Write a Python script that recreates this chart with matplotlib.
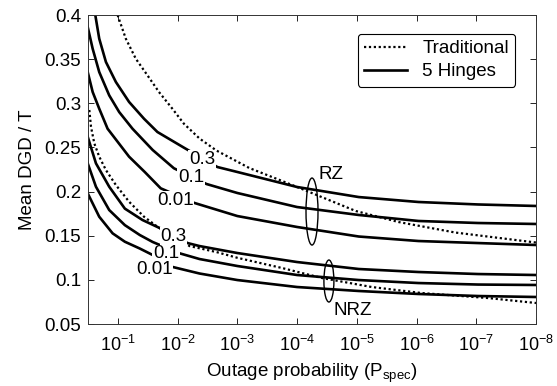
import numpy as np
import matplotlib
matplotlib.use("Agg")
import matplotlib.pyplot as plt
from matplotlib.patches import Ellipse
from matplotlib.lines import Line2D
from matplotlib.transforms import ScaledTranslation
from matplotlib.ticker import FixedLocator, FormatStrFormatter, LogFormatterSciNotation, NullLocator

plt.rcParams['font.family'] = ['Liberation Sans', 'DejaVu Sans']
plt.rcParams['mathtext.fontset'] = 'custom'
plt.rcParams['mathtext.rm'] = 'Liberation Sans'
plt.rcParams['mathtext.it'] = 'Liberation Sans:italic'

# --- data: log10(P_spec) and mean DGD / T ---
# traditional (dotted)
rz_trad_lp = [-0.995, -1.133, -1.3, -1.495, -1.688, -1.912, -2.105, -2.367, -2.65, -3.2, -3.75, -4.083, -4.983, -5.7, -6.65, -8.0]
rz_trad_y = [0.400, 0.3732, 0.3505, 0.3317, 0.3128, 0.2939, 0.2769, 0.2601, 0.2465, 0.2267, 0.2120, 0.2029, 0.1780, 0.1655, 0.1536, 0.1423]
nrz_trad_lp = [-0.522, -0.55, -0.605, -0.688, -0.8, -0.967, -1.188, -1.438, -1.662, -2.2, -2.65, -3.0, -3.75, -4.417, -5.25, -6.083, -7.2, -8.0]
nrz_trad_y = [0.2924, 0.2735, 0.2547, 0.2395, 0.2244, 0.2074, 0.1885, 0.1715, 0.1602, 0.1383, 0.1315, 0.1250, 0.1134, 0.1021, 0.0919, 0.0851, 0.0794, 0.0738]

# 5 hinges (solid), RZ
rz_03_lp = [-0.622, -0.688, -0.8, -0.967, -1.188, -1.438, -1.662, -2.117, -2.667, -3.0, -4.0, -5.033, -6.033, -7.03, -8.0]
rz_03_y = [0.400, 0.3732, 0.3468, 0.3241, 0.3015, 0.2825, 0.2675, 0.2493, 0.2278, 0.2222, 0.2052, 0.1938, 0.1882, 0.1854, 0.1837]
rz_01_lp = [-0.495, -0.578, -0.688, -0.855, -1.022, -1.245, -1.583, -1.938, -2.483, -3.0, -4.0, -5.033, -6.033, -7.03, -8.0]
rz_01_y = [0.3864, 0.3618, 0.3354, 0.3090, 0.2901, 0.2712, 0.2471, 0.2264, 0.2086, 0.1984, 0.1825, 0.1735, 0.1667, 0.1644, 0.1633]
rz_001_lp = [-0.495, -0.578, -0.688, -0.828, -1.188, -1.45, -1.717, -2.283, -3.0, -4.0, -5.033, -6.033, -7.03, -8.0]
rz_001_y = [0.3354, 0.3128, 0.2939, 0.2712, 0.2395, 0.2222, 0.2037, 0.1871, 0.1723, 0.1599, 0.1491, 0.1440, 0.1417, 0.1395]

# 5 hinges (solid), NRZ
nrz_03_lp = [-0.495, -0.633, -0.855, -1.117, -1.412, -1.7, -2.167, -2.367, -3.0, -4.0, -5.033, -6.033, -7.03, -8.0]
nrz_03_y = [0.2621, 0.2320, 0.2055, 0.1807, 0.1678, 0.1587, 0.1417, 0.1383, 0.1304, 0.1202, 0.1123, 0.1089, 0.1066, 0.1055]
nrz_01_lp = [-0.495, -0.633, -0.855, -1.117, -1.367, -1.583, -2.033, -2.367, -3.0, -4.0, -5.033, -6.033, -7.03, -8.0]
nrz_01_y = [0.2320, 0.2055, 0.1791, 0.1620, 0.1508, 0.1429, 0.1301, 0.1236, 0.1157, 0.1055, 0.0998, 0.0964, 0.0947, 0.0942]
nrz_001_lp = [-0.495, -0.688, -0.912, -1.117, -1.367, -1.617, -1.917, -2.367, -3.0, -4.0, -5.033, -6.033, -7.03, -8.0]
nrz_001_y = [0.1980, 0.1715, 0.1527, 0.1432, 0.1355, 0.1270, 0.1146, 0.1072, 0.0998, 0.0919, 0.0874, 0.0840, 0.0817, 0.0806]

# inline curve labels: text, log10(P), y
label_txt = ["0.3", "0.1", "0.01", "0.3", "0.1", "0.01"]
label_lp = [-2.408, -2.225, -1.958, -1.933, -1.808, -1.608]
label_y = [0.2363, 0.2159, 0.1904, 0.1491, 0.1293, 0.1112]

# group markers (ellipse centres) and their names
group_txt = ["RZ", "NRZ"]
group_lp = [-4.25, -4.533]
group_y = [0.1774, 0.0987]
group_txt_lp = [-4.575, -4.925]
group_txt_y = [0.2193, 0.0658]

x_ticks = [1e-1, 1e-2, 1e-3, 1e-4, 1e-5, 1e-6, 1e-7, 1e-8]
y_ticks = [0.05, 0.1, 0.15, 0.2, 0.25, 0.3, 0.35, 0.4]

FS = 13.5
fig = plt.figure(figsize=(5.57, 3.86), dpi=100)
ax = fig.add_axes([0.158, 0.1606, 0.8043, 0.8005])

LW = 1.9
DOT = (0, (1, 1.2))
for lp, y in [(rz_trad_lp, rz_trad_y), (nrz_trad_lp, nrz_trad_y)]:
    ax.plot(10.0 ** np.array(lp), y, color='black', lw=1.6, ls=DOT)
for lp, y in [(rz_03_lp, rz_03_y), (rz_01_lp, rz_01_y), (rz_001_lp, rz_001_y),
              (nrz_03_lp, nrz_03_y), (nrz_01_lp, nrz_01_y), (nrz_001_lp, nrz_001_y)]:
    ax.plot(10.0 ** np.array(lp), y, color='black', lw=LW)

for t, lp, y in zip(label_txt, label_lp, label_y):
    ax.text(10.0 ** lp, y, t, fontsize=FS, ha='center', va='center', zorder=5,
            bbox=dict(facecolor='white', edgecolor='none', pad=0.5))

# ellipses drawn at data centres, size in inches
sizes = [(0.12, 0.67), (0.10, 0.42)]
for lp, y, (w, h) in zip(group_lp, group_y, sizes):
    tr = fig.dpi_scale_trans + ScaledTranslation(10.0 ** lp, y, ax.transData)
    ax.add_patch(Ellipse((0, 0), w, h, transform=tr, fill=False, ec='black', lw=1.0, zorder=6))
for t, lp, y in zip(group_txt, group_txt_lp, group_txt_y):
    ax.text(10.0 ** lp, y, t, fontsize=FS, ha='center', va='center')

ax.set_xscale('log')
ax.set_xlim(10 ** -0.5, 1e-8)
ax.set_ylim(0.05, 0.4)
ax.xaxis.set_major_locator(FixedLocator(x_ticks))
ax.xaxis.set_major_formatter(LogFormatterSciNotation())
ax.xaxis.set_minor_locator(NullLocator())
ax.yaxis.set_major_locator(FixedLocator(y_ticks))
ax.yaxis.set_major_formatter(FormatStrFormatter('%g'))
ax.tick_params(direction='in', top=True, right=True, labelsize=FS, length=4, width=0.6)
ax.tick_params(axis='x', pad=8, labelsize=13)
ax.tick_params(axis='y', pad=5)
for s in ax.spines.values():
    s.set_linewidth(0.7)
    s.set_color('#333333')

ax.set_xlabel(r'Outage probability (P$_{\mathregular{spec}}$)', fontsize=FS, labelpad=5)
ax.set_ylabel('Mean DGD / T', fontsize=FS, labelpad=6)

handles = [Line2D([], [], color='black', lw=1.6, ls=DOT),
           Line2D([], [], color='black', lw=LW)]
leg = ax.legend(handles, ['Traditional', '5 Hinges'], loc='upper right', fontsize=FS,
                handlelength=2.3, handletextpad=0.8, borderpad=0.35, labelspacing=0.3,
                fancybox=True, framealpha=1, bbox_to_anchor=(0.975, 0.97))
leg.get_frame().set_edgecolor('black')
leg.get_frame().set_linewidth(0.8)

fig.savefig('out.png', dpi=100)
